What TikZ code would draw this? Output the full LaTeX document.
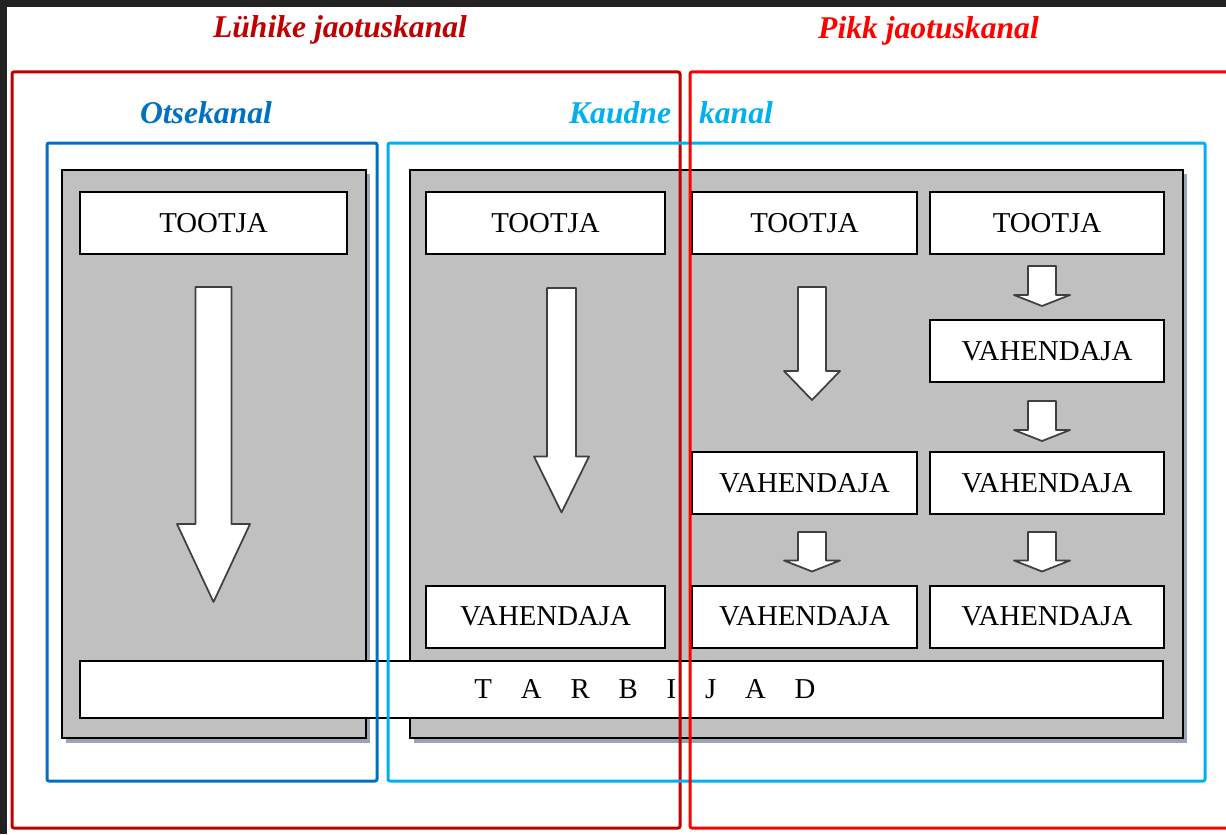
\documentclass[tikz,border=0pt]{standalone}
\usepackage{fontspec}
\setmainfont{Liberation Serif}
\usetikzlibrary{calc, shadows}
\definecolor{shortred}{RGB}{192, 0, 0}
\definecolor{longred}{RGB}{255, 0, 0}
\definecolor{directblue}{RGB}{0, 112, 192}
\definecolor{indirectblue}{RGB}{0, 176, 240}
\definecolor{panelgray}{RGB}{192, 192, 192}
\definecolor{shadowblue}{RGB}{110, 125, 150}
\definecolor{screenedge}{RGB}{34, 34, 34}
% block arrow: top centre, tip, shaft half width, head half width, head length
\newcommand{\blockarrow}[5]{%
  \draw[flow] ($(#1)+(-#3,0)$) -- ($(#1)+(#3,0)$) -- ($(#2)+(#3,-#5)$)
    -- ($(#2)+(#4,-#5)$) -- (#2) -- ($(#2)+(-#4,-#5)$) -- ($(#2)+(-#3,-#5)$) -- cycle;}
\newcommand{\spread}{\hspace{1.0em}}

\begin{document}
\begin{tikzpicture}[x=0.2mm, y=-0.2mm,
    panel/.style={draw=black, line width=0.4mm, fill=panelgray, minimum height=113.6mm,
      drop shadow={shadow xshift=0.8mm, shadow yshift=-0.9mm, fill=shadowblue, opacity=0.7}},
    stage/.style={draw=black, line width=0.4mm, fill=white, minimum height=12.4mm, inner sep=0pt,
      font=\fontsize{16.4}{18}\selectfont},
    frame/.style={line width=0.6mm, rounded corners=0.4mm},
    title/.style={anchor=base, font=\fontsize{18}{20}\selectfont\bfseries\itshape},
    flow/.style={draw=black!75, line width=0.35mm, fill=white, line join=round}]
    \useasboundingbox (0,0) rectangle (1226,834);

    % Screen edge
    \fill[screenedge] (0,0) rectangle (1226,7);
    \fill[screenedge] (0,0) rectangle (7,834);

    % Grey panels
    \node[panel, minimum width=60.8mm] (leftpanel) at (214,454) {};
    \node[panel, minimum width=154.6mm] (rightpanel) at (796.5,454) {};

    % Producers
    \node[stage, minimum width=53.4mm] (prodA) at (213.5,223) {TOOTJA};
    \node[stage, minimum width=47.8mm] (prodB) at (545.5,223) {TOOTJA};
    \node[stage, minimum width=45mm] (prodC) at (804.5,223) {TOOTJA};
    \node[stage, minimum width=46.8mm] (prodD) at (1047,223) {TOOTJA};

    % Intermediaries
    \node[stage, minimum width=46.8mm] (midD2) at (1047,351) {VAHENDAJA};
    \node[stage, minimum width=45mm] (midC3) at (804.5,483) {VAHENDAJA};
    \node[stage, minimum width=46.8mm] (midD3) at (1047,483) {VAHENDAJA};
    \node[stage, minimum width=47.8mm] (midB4) at (545.5,616.5) {VAHENDAJA};
    \node[stage, minimum width=45mm] (midC4) at (804.5,616.5) {VAHENDAJA};
    \node[stage, minimum width=46.8mm] (midD4) at (1047,616.5) {VAHENDAJA};

    % Consumers
    \node[stage, minimum width=216.6mm, minimum height=11.4mm] (cons) at (621.5,689.5)
      {\hspace{9.4mm}T\spread A\spread R\spread B\spread I\spread J\spread A\spread D};

    % Flows
    \coordinate (fA1) at ($(prodA.south)+(0,32)$);
    \coordinate (fA2) at ($(prodA.south |- cons.north)+(0,-58)$);
    \coordinate (fB1) at ($(prodB.south)+(16,33)$);
    \coordinate (fB2) at ($(midB4.north)+(16,-72)$);
    \coordinate (fC1) at ($(prodC.south)+(7.5,32)$);
    \coordinate (fC2) at ($(midC3.north)+(7.5,-51)$);
    \coordinate (fC3) at ($(midC3.south)+(7.5,17)$);
    \coordinate (fC4) at ($(midC4.north)+(7.5,-13)$);
    \coordinate (fD1) at ($(prodD.south)+(-5,11)$);
    \coordinate (fD2) at ($(midD2.north)+(-5,-13)$);
    \coordinate (fD3) at ($(midD2.south)+(-5,18)$);
    \coordinate (fD4) at ($(midD3.north)+(-5,-10)$);
    \coordinate (fD5) at ($(midD3.south)+(-5,17)$);
    \coordinate (fD6) at ($(midD4.north)+(-5,-13)$);
    \blockarrow{fA1}{fA2}{18}{36.5}{78}
    \blockarrow{fB1}{fB2}{14.5}{27.5}{56}
    \blockarrow{fC1}{fC2}{14}{28}{29}
    \foreach \s/\t in {fC3/fC4, fD1/fD2, fD3/fD4, fD5/fD6}
      {\blockarrow{\s}{\t}{14}{28}{11}}

    % Channel frames
    \draw[frame, shortred] (12,72) rectangle (680,828);
    \draw[frame, directblue] (47,143) rectangle (377,781);
    \draw[frame, indirectblue] (388,143) rectangle (1205,781);
    \draw[frame, longred] (690,72) rectangle (1240,828);

    % Titles
    \node[title, shortred] (shorttitle) at (340,38) {Lühike jaotuskanal};
    \node[title, longred] (longtitle) at (928.5,39) {Pikk jaotuskanal};
    \node[title, directblue] (directtitle) at (206,123) {Otsekanal};
    \node[title, indirectblue] (indirecttitle) at (671,123) {Kaudne\hspace{5.6mm}kanal};
\end{tikzpicture}
\end{document}
